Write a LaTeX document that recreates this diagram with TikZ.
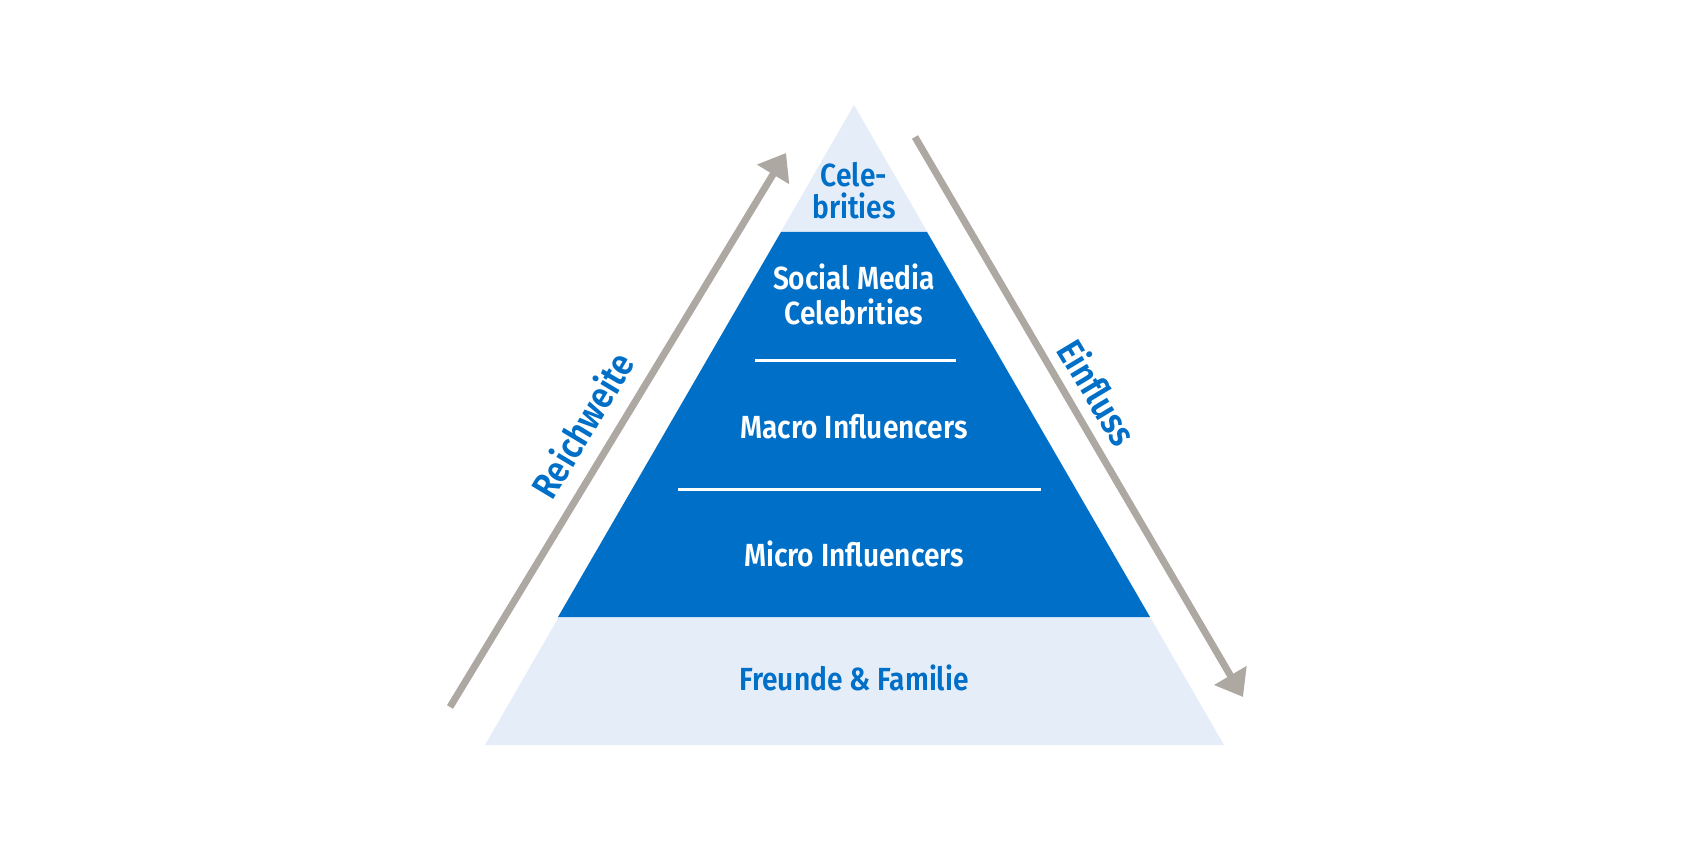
\documentclass[tikz,border=0pt]{standalone}
\usepackage{fontspec}
\setmainfont{Fira Sans}[BoldFont={Fira Sans SemiBold}, FakeStretch=0.88]
\usetikzlibrary{arrows.meta}
\definecolor{pblue}{RGB}{0,111,199}
\definecolor{plight}{RGB}{229,238,248}
\definecolor{pgray}{RGB}{173,168,162}
\tikzset{
  lbl/.style={font=\fontsize{32}{34}\selectfont\bfseries, inner sep=0pt, anchor=base},
  onlight/.style={lbl, text=pblue},
  ondark/.style={lbl, text=white},
  sidelbl/.style={font=\fontsize{37}{39}\selectfont\bfseries, inner sep=0pt, text=pblue},
  garrow/.style={draw=pgray, line width=7pt, -{Triangle[length=25pt,width=36pt]}},
  sepline/.style={draw=white, line width=3pt}
}
\begin{document}
\begin{tikzpicture}[x=1pt,y=-1pt]
\useasboundingbox (0,0) rectangle (1700,850);
\fill[white] (0,0) rectangle (1700,850);
% pyramid
\fill[plight] (854,105) -- (1224,745) -- (485,745) -- cycle;
\fill[pblue] (781,232) -- (927,232) -- (1150,617) -- (558,617) -- cycle;
% separator lines
\coordinate (s1a) at (755,360); \coordinate (s1b) at (956,360);
\coordinate (s2a) at (678,489); \coordinate (s2b) at (1041,489);
\draw[sepline] (s1a) -- (s1b);
\draw[sepline] (s2a) -- (s2b);
% labels
\node[onlight] (celeb1) at (854,187) {Cele-};
\node[onlight] (celeb2) at (854,219) {brities};
\node[ondark] (smc1) at (854,290) {Social Media};
\node[ondark] (smc2) at (854,324) {Celebrities};
\node[ondark] (macro) at (854,438) {Macro Influencers};
\node[ondark] (micro) at (854,566) {Micro Influencers};
\node[onlight] (ff) at (854,690) {Freunde \& Familie};
% arrows
\coordinate (la) at (450,707); \coordinate (lb) at (786,153);
\coordinate (ra) at (915,137); \coordinate (rb) at (1243,697);
\draw[garrow] (la) -- (lb);
\draw[garrow] (ra) -- (rb);
\node[sidelbl, rotate=59] (reich) at (582,425) {Reichweite};
\node[sidelbl, rotate=-59] (einf) at (1098,392) {Einfluss};
\end{tikzpicture}
\end{document}
